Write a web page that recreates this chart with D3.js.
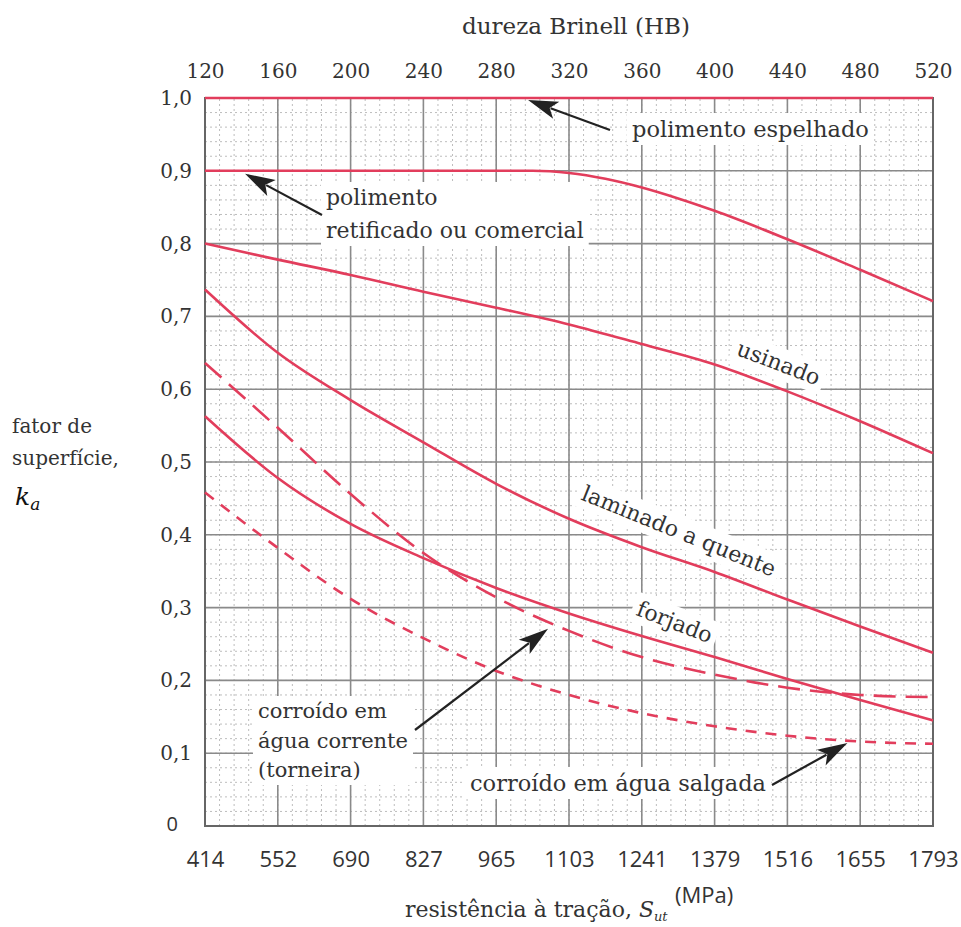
<!DOCTYPE html>
<html>
<head>
<meta charset="utf-8">
<script src="https://cdn.jsdelivr.net/npm/d3@7"></script>
<style>
  body { margin: 0; background: #fff; }
  svg { display: block; }
</style>
</head>
<body>
<svg id="chart" width="961" height="927"></svg>
<script>
// dureza Brinell nos pontos de leitura
let hb = [120, 160, 200, 240, 280, 320, 360, 400, 440, 480, 520];
let hbTicks = [120, 160, 200, 240, 280, 320, 360, 400, 440, 480, 520];
let mpaTicks = ["414", "552", "690", "827", "965", "1103", "1241", "1379", "1516", "1655", "1793"];
let kaTicks = [0, 0.1, 0.2, 0.3, 0.4, 0.5, 0.6, 0.7, 0.8, 0.9, 1.0];

let espelhado = [1.0, 1.0, 1.0, 1.0, 1.0, 1.0, 1.0, 1.0, 1.0, 1.0, 1.0];
// retificado has extra points near the bend
let retificadoHb = [120, 160, 200, 240, 280, 300, 320, 340, 360, 380, 400, 440, 480, 520];
let retificado = [0.9, 0.9, 0.9, 0.9, 0.9, 0.9, 0.897, 0.889, 0.877, 0.862, 0.845, 0.806, 0.764, 0.721];
let usinado = [0.80, 0.778, 0.757, 0.734, 0.712, 0.689, 0.662, 0.634, 0.597, 0.556, 0.512];
let laminado = [0.737, 0.650, 0.585, 0.527, 0.470, 0.422, 0.383, 0.349, 0.311, 0.274, 0.238];
let forjado = [0.563, 0.478, 0.415, 0.368, 0.327, 0.292, 0.261, 0.232, 0.202, 0.173, 0.145];
let aguaCorrente = [0.636, 0.547, 0.456, 0.375, 0.314, 0.268, 0.232, 0.208, 0.190, 0.180, 0.177];
let aguaSalgada = [0.458, 0.382, 0.312, 0.258, 0.213, 0.180, 0.155, 0.137, 0.124, 0.116, 0.113];

let red = "#e23d5c";
let serif = "'DejaVu Serif', 'Liberation Serif', serif";
let sans = "'Open Sans', 'Noto Sans', sans-serif";
let ink = "#333";

let svg = d3.select("#chart");
let x = d3.scaleLinear().domain([120, 520]).range([205, 933]);
let y = d3.scaleLinear().domain([0, 1]).range([826, 98]);

// minor grid
let grid = svg.append("g");
grid.selectAll(".vminor")
    .data(d3.range(120, 521, 8))
    .enter().append("line")
    .attr("x1", d => x(d)).attr("x2", d => x(d))
    .attr("y1", y(0)).attr("y2", y(1))
    .attr("stroke", "#bdbdbd").attr("stroke-width", 1)
    .attr("stroke-dasharray", "2,3");
grid.selectAll(".hminor")
    .data(d3.range(0, 51).map(i => i * 0.02))
    .enter().append("line")
    .attr("x1", x(120)).attr("x2", x(520))
    .attr("y1", d => y(d)).attr("y2", d => y(d))
    .attr("stroke", "#bdbdbd").attr("stroke-width", 1)
    .attr("stroke-dasharray", "2,3");

// major grid
grid.selectAll(".vmajor")
    .data(hbTicks)
    .enter().append("line")
    .attr("x1", d => x(d)).attr("x2", d => x(d))
    .attr("y1", y(0)).attr("y2", y(1))
    .attr("stroke", "#8a8a8a").attr("stroke-width", 1.6);
grid.selectAll(".hmajor")
    .data(kaTicks)
    .enter().append("line")
    .attr("x1", x(120)).attr("x2", x(520))
    .attr("y1", d => y(d)).attr("y2", d => y(d))
    .attr("stroke", "#8a8a8a").attr("stroke-width", 1.6);

svg.append("rect")
    .attr("x", x(120)).attr("y", y(1))
    .attr("width", x(520) - x(120)).attr("height", y(0) - y(1))
    .attr("fill", "none").attr("stroke", "#666").attr("stroke-width", 2);

// axes
let topAxis = d3.axisTop(x).tickValues(hbTicks).tickSize(0).tickPadding(20);
let gTop = svg.append("g").attr("transform", "translate(0," + y(1) + ")").call(topAxis);
gTop.select(".domain").remove();
gTop.selectAll("text").style("font-family", serif).style("font-size", "20px").attr("fill", ink);

let bottomAxis = d3.axisBottom(x).tickValues(hbTicks).tickSize(0).tickPadding(25)
    .tickFormat((d, i) => mpaTicks[i]);
let gBottom = svg.append("g").attr("transform", "translate(0," + y(0) + ")").call(bottomAxis);
gBottom.select(".domain").remove();
gBottom.selectAll("text").style("font-family", sans).style("font-size", "22px").attr("fill", ink);

let leftAxis = d3.axisLeft(y).tickValues(kaTicks).tickSize(0).tickPadding(13)
    .tickFormat(d => d === 0 ? "0" : d3.format(".1f")(d).replace(".", ","));
let gLeft = svg.append("g").attr("transform", "translate(" + x(120) + ",0)").call(leftAxis);
gLeft.select(".domain").remove();
gLeft.selectAll("text")
    .style("font-family", d => d === 0 ? sans : serif)
    .style("font-size", "20px")
    .attr("fill", ink)
    .attr("dx", d => d === 0 ? "-14" : "0")
    .attr("dy", d => d === 0 ? "0.2em" : "0.32em");

// axis titles
svg.append("text").attr("x", 576).attr("y", 34)
    .style("font-family", serif).style("font-size", "23px").attr("fill", ink)
    .attr("text-anchor", "middle").text("dureza Brinell (HB)");

let bt = svg.append("text").attr("x", 405).attr("y", 917)
    .style("font-family", serif).style("font-size", "22px").attr("fill", ink);
bt.append("tspan").text("resistência à tração, ");
bt.append("tspan").style("font-style", "italic").text("S");
bt.append("tspan").style("font-style", "italic").style("font-size", "13px").attr("dy", 4).text("ut");
svg.append("text").attr("x", 675).attr("y", 903)
    .style("font-family", sans).style("font-size", "22px").attr("fill", ink).text("(MPa)");

svg.append("text").attr("x", 12).attr("y", 433)
    .style("font-family", serif).style("font-size", "20px").attr("fill", ink).text("fator de");
svg.append("text").attr("x", 12).attr("y", 465)
    .style("font-family", serif).style("font-size", "20px").attr("fill", ink).text("superfície,");
let ka = svg.append("text").attr("x", 15).attr("y", 505)
    .style("font-family", serif).style("font-style", "italic")
    .style("font-size", "25px").attr("fill", "#111");
ka.append("tspan").text("k");
ka.append("tspan").style("font-size", "17px").attr("dy", 5).text("a");

// curves
let line = d3.line().x(d => x(d[0])).y(d => y(d[1])).curve(d3.curveMonotoneX);
let series = [
    { xs: hb, ys: espelhado, dash: null },
    { xs: retificadoHb, ys: retificado, dash: null },
    { xs: hb, ys: usinado, dash: null },
    { xs: hb, ys: laminado, dash: null },
    { xs: hb, ys: forjado, dash: null },
    { xs: hb, ys: aguaCorrente, dash: "22,10" },
    { xs: hb, ys: aguaSalgada, dash: "11,9" }
];
svg.selectAll(".curve")
    .data(series)
    .enter().append("path")
    .attr("class", "curve")
    .attr("d", s => line(s.xs.map((v, i) => [v, s.ys[i]])))
    .attr("fill", "none")
    .attr("stroke", red)
    .attr("stroke-width", 2.6)
    .attr("stroke-dasharray", s => s.dash);

// labels with white boxes
function label(lines, px, py, angle, anchor, gap, size) {
    let g = svg.append("g").attr("transform", "translate(" + px + "," + py + ") rotate(" + angle + ")");
    let t = g.append("text").style("font-family", serif).style("font-size", (size || 22) + "px")
        .attr("fill", ink).attr("text-anchor", anchor || "start");
    lines.forEach((l, i) => {
        t.append("tspan").attr("x", 0).attr("dy", i === 0 ? 0 : (gap || 30)).text(l);
    });
    let b = t.node().getBBox();
    g.insert("rect", "text")
        .attr("x", b.x - 5).attr("y", b.y - 3)
        .attr("width", b.width + 10).attr("height", b.height + 6)
        .attr("fill", "#fff");
}
label(["polimento espelhado"], 632, 137, 0, "start", 30, 22.5);
label(["polimento", "retificado ou comercial"], 326, 205, 0, "start", 33, 22);
label(["usinado"], 776, 370, 21, "middle", 30, 22);
label(["laminado a quente"], 676, 538, 22, "middle", 30, 22);
label(["forjado"], 672, 629, 21, "middle", 30, 22);
label(["corroído em", "água corrente", "(torneira)"], 258, 718, 0, "start", 29.5, 21);
label(["corroído em água salgada"], 470, 791, 0, "start", 30, 22.5);

// arrows
function arrow(x1, y1, x2, y2) {
    let a = Math.atan2(y2 - y1, x2 - x1);
    let len = 30, w = 9;
    let bx = x2 - len * Math.cos(a), by = y2 - len * Math.sin(a);
    svg.append("line").attr("x1", x1).attr("y1", y1).attr("x2", bx + 6 * Math.cos(a)).attr("y2", by + 6 * Math.sin(a))
        .attr("stroke", "#222").attr("stroke-width", 2.2);
    let p = [[x2, y2],
             [bx + w * Math.sin(a), by - w * Math.cos(a)],
             [bx + 7 * Math.cos(a), by + 7 * Math.sin(a)],
             [bx - w * Math.sin(a), by + w * Math.cos(a)]];
    svg.append("path").attr("d", "M" + p.map(q => q.join(",")).join("L") + "Z").attr("fill", "#222");
}
arrow(610, 130, x(297.5), y(1) + 2);
arrow(322, 215, x(142), y(0.9) + 3);
arrow(415, 730, x(308.5), y(0.271));
arrow(772, 785, x(473), y(0.114));
</script>
</body>
</html>
